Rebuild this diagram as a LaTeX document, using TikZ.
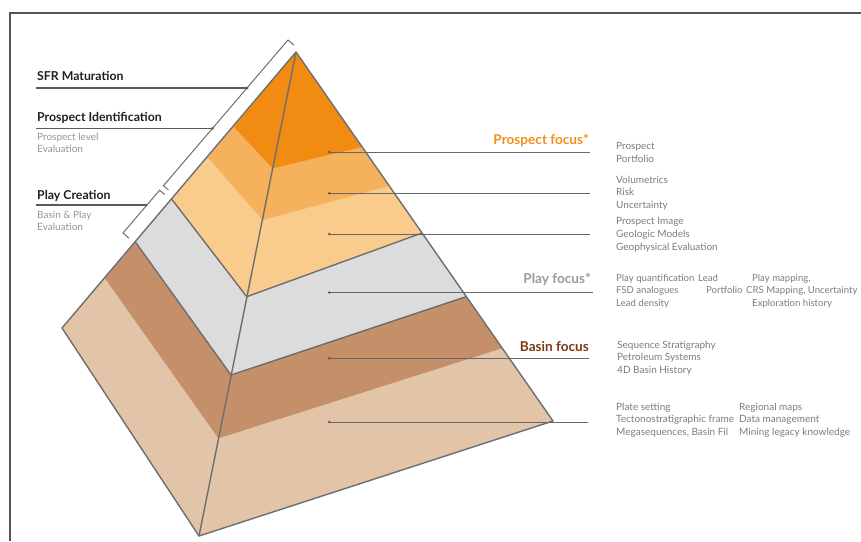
\documentclass[tikz,border=0pt]{standalone}
\usepackage{fontspec}
\setmainfont{Lato}
\usetikzlibrary{calc}

\definecolor{frameline}{HTML}{555555}
\definecolor{edgegrey}{HTML}{6E6E6E}
\definecolor{orangeA}{HTML}{F28B12}
\definecolor{orangeB}{HTML}{F6B15C}
\definecolor{orangeC}{HTML}{F9CB8D}
\definecolor{greyband}{HTML}{DCDCDC}
\definecolor{brownband}{HTML}{C48F69}
\definecolor{tanband}{HTML}{E2C4A9}
\definecolor{headdark}{HTML}{1F1F2A}
\definecolor{subgrey}{HTML}{959595}
\definecolor{notegrey}{HTML}{7C7C7C}
\definecolor{prospectorange}{HTML}{F39019}
\definecolor{playgrey}{HTML}{9B9B9B}
\definecolor{basinbrown}{HTML}{7B3A12}
\definecolor{leadergrey}{HTML}{5A5A5A}
\definecolor{rightleader}{HTML}{666666}

\tikzset{
  edgeline/.style={draw=edgegrey, line width=1.4pt, line join=round},
  bracketline/.style={draw=edgegrey, line width=1pt},
  leaderline/.style={draw=leadergrey, line width=1.1pt},
  rightline/.style={draw=rightleader, line width=0.9pt},
  pin/.style={fill=leadergrey},
  headlabel/.style={inner sep=0pt, anchor=base west, font=\fontsize{12.3}{14}\selectfont\bfseries, text=headdark},
  focuslabel/.style={inner sep=0pt, anchor=base east, font=\fontsize{13.6}{15}\selectfont\bfseries},
  sublabel/.style={inner sep=0pt, anchor=north west, align=left, font=\fontsize{10}{12.7}\selectfont, text=subgrey},
  notelabel/.style={inner sep=0pt, anchor=north west, align=left, font=\fontsize{10}{12.6}\selectfont, text=notegrey},
  tightnote/.style={notelabel, font=\fontsize{9.6}{12.6}\selectfont}
}

\begin{document}
\begin{tikzpicture}[x=1pt, y=-1pt]
\useasboundingbox (0,0) rectangle (861,541);

% page frame
\draw[frameline, line width=2pt] (9.5,541) -- (9.5,13) -- (861,13);

% pyramid corners
\coordinate (apex)  at (296,52);
\coordinate (baseL) at (62,328);
\coordinate (baseF) at (199,536);
\coordinate (baseR) at (553,421);

% band boundaries: left edge (l), front ridge (m), right edge (r)
\coordinate (l1) at (234,127);   \coordinate (m1) at (272.7,168.3); \coordinate (r1) at (362,147);
\coordinate (l2) at (208,157.5); \coordinate (m2) at (262.5,220);   \coordinate (r2) at (389,186);
\coordinate (l3) at (172,199.5); \coordinate (m3) at (246.7,296.7); \coordinate (r3) at (422,233);
\coordinate (l4) at (135.2,241.7); \coordinate (m4) at (231,375);   \coordinate (r4) at (466,296.7);
\coordinate (l5) at (105,278.3); \coordinate (m5) at (218.4,438.3); \coordinate (r5) at (502,348.3);

% bands, painted from the base upwards
\fill[tanband]   (apex) -- (baseL) -- (baseF) -- (baseR) -- cycle;
\fill[brownband] (apex) -- (l5) -- (m5) -- (r5) -- cycle;
\fill[greyband]  (apex) -- (l4) -- (m4) -- (r4) -- cycle;
\fill[orangeC]   (apex) -- (l3) -- (m3) -- (r3) -- cycle;
\fill[orangeB]   (apex) -- (l2) -- (m2) -- (r2) -- cycle;
\fill[orangeA]   (apex) -- (l1) -- (m1) -- (r1) -- cycle;

% outlines
\draw[edgeline] (l3) -- (m3) -- (r3);
\draw[edgeline] (l4) -- (m4) -- (r4);
\draw[edgeline] (apex) -- (baseF);
\draw[edgeline] (apex) -- (baseL) -- (baseF) -- (baseR) -- cycle;

% brackets beside the upper left edge
\coordinate (bt) at (288,40);
\coordinate (bb) at (123,233);
\coordinate (bu) at ($(bt)!0.755!(bb)$);
\coordinate (bl) at ($(bt)!0.778!(bb)$);
\draw[bracketline] ($(bt)+(6,5.2)$) -- (bt) -- (bu) -- ($(bu)+(5,4.3)$);
\draw[bracketline] ($(bl)+(5,4.3)$) -- (bl) -- (bb) -- ($(bb)+(6,5.2)$);

% left labels
\node[headlabel] (sfr) at (37,80.5) {SFR Maturation};
\coordinate (sfrstart) at (36,88);
\coordinate (sfrpin) at (247,88);
\draw[leaderline] (sfrstart) -- (sfrpin);
\fill[pin] (sfrpin) circle (1.5pt);

\node[headlabel] (pid) at (37,121) {Prospect Identification};
\coordinate (pidstart) at (36,128.3);
\coordinate (pidpin) at (212.5,128.3);
\draw[leaderline] (pidstart) -- (pidpin);
\fill[pin] (pidpin) circle (1.5pt);
\node[sublabel] (pidsub) at (37,132.5) {Prospect level\\Evaluation};

\node[headlabel] (pcr) at (37,199.5) {Play Creation};
\coordinate (pcrstart) at (36,205);
\coordinate (pcrpin) at (146,205);
\draw[leaderline] (pcrstart) -- (pcrpin);
\fill[pin] (pcrpin) circle (1.5pt);
\node[sublabel] (pcrsub) at (37,210.5) {Basin \& Play\\Evaluation};

% right leaders
\foreach \nm/\yy/\xe in {pa/152/590, pb/193.3/590, pc/234/590, pd/292.5/593, pe/358.3/589, pf/422/588}{
  \coordinate (\nm dot) at (329.3,\yy);
  \coordinate (\nm end) at (\xe,\yy);
  \draw[rightline] (\nm dot) -- (\nm end);
  \fill[pin] (\nm dot) circle (1.4pt);
}

% right labels
\node[focuslabel, text=prospectorange] (pfocus) at (589,144.5) {Prospect focus*};
\node[focuslabel, text=playgrey] (plfocus) at (591,283) {Play focus*};
\node[focuslabel, text=basinbrown] (bfocus) at (589,351.5) {Basin focus};

\node[notelabel] (na) at (616,142.5) {Prospect\\Portfolio};
\node[notelabel] (nb) at (616,175.5) {Volumetrics\\Risk\\Uncertainty};
\node[notelabel] (nc) at (616,217.5) {Prospect Image\\Geologic Models\\Geophysical Evaluation};
\node[tightnote] (nd) at (616,274) {Play quantification\\FSD analogues\\Lead density};
\node[tightnote] (ne) at (698,274) {Lead};
\node[tightnote] (nf) at (706,286.5) {Portfolio};
\node[tightnote] (ng) at (752,274) {Play mapping,};
\node[tightnote] (nh) at (746,286.5) {CRS Mapping, Uncertainty};
\node[tightnote] (ni) at (752,299) {Exploration history};
\node[notelabel] (nj) at (617,340.5) {Sequence Stratigraphy\\Petroleum Systems\\4D Basin History};
\node[notelabel] (nk) at (616,402.5) {Plate setting\\Tectonostratigraphic frame\\Megasequences, Basin Fil};
\node[notelabel] (nl) at (739,402.5) {Regional maps\\Data management\\Mining legacy knowledge};
\end{tikzpicture}
\end{document}
